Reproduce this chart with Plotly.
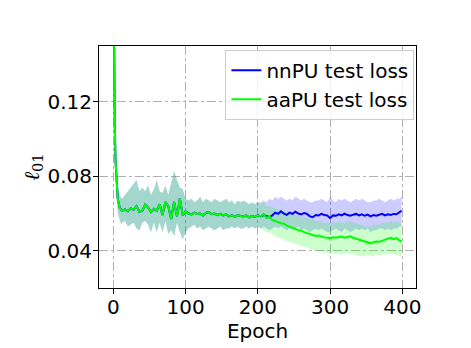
import plotly.graph_objects as go

epochs = list(range(0, 12)) + list(range(12, 400, 4)) + [399]

# shared part (epochs 0..200): both methods coincide
shared_mean = [0.200, 0.140, 0.105, 0.088, 0.078, 0.072, 0.068, 0.066, 0.064, 0.063, 0.0625, 0.062,
               0.0615, 0.0622, 0.0612, 0.0628, 0.0620, 0.0640, 0.0608, 0.0615, 0.0648, 0.0632,
               0.0608, 0.0625, 0.0615, 0.0650, 0.0592, 0.0662, 0.0640, 0.0570, 0.0662, 0.0585,
               0.0680, 0.0590, 0.0612, 0.0600, 0.0595, 0.0605, 0.0598, 0.0600, 0.0590, 0.0603,
               0.0608, 0.0596, 0.0600, 0.0592, 0.0598, 0.0590, 0.0595, 0.0585, 0.0590, 0.0583,
               0.0592, 0.0587, 0.0584, 0.0590, 0.0580, 0.0586, 0.0582, 0.0590]
shared_lo = [0.19, 0.13, 0.098, 0.082, 0.072, 0.066, 0.061, 0.059, 0.057, 0.056, 0.055, 0.054,
             0.055, 0.056, 0.053, 0.054, 0.055, 0.052, 0.051, 0.055, 0.056, 0.054,
             0.050, 0.055, 0.050, 0.055, 0.050, 0.056, 0.049, 0.051, 0.048, 0.055,
             0.050, 0.046, 0.050, 0.052, 0.053, 0.054, 0.052, 0.053, 0.051, 0.052,
             0.053, 0.052, 0.051, 0.052, 0.053, 0.051, 0.052, 0.052, 0.053, 0.052,
             0.053, 0.052, 0.052, 0.053, 0.052, 0.053, 0.052, 0.053]
shared_hi = [0.21, 0.15, 0.112, 0.094, 0.084, 0.078, 0.075, 0.072, 0.070, 0.069, 0.069, 0.068,
             0.068, 0.070, 0.072, 0.074, 0.076, 0.078, 0.072, 0.074, 0.072, 0.075,
             0.070, 0.073, 0.078, 0.072, 0.071, 0.075, 0.070, 0.076, 0.083, 0.078,
             0.074, 0.073, 0.068, 0.067, 0.068, 0.066, 0.067, 0.069, 0.066, 0.068,
             0.067, 0.066, 0.068, 0.067, 0.066, 0.067, 0.068, 0.066, 0.067, 0.065,
             0.067, 0.066, 0.067, 0.066, 0.065, 0.066, 0.065, 0.066]

nnpu_mean_tail = [0.0585, 0.0592, 0.0588, 0.0580, 0.0590, 0.0605, 0.0598, 0.0612, 0.0600, 0.0593,
                  0.0605, 0.0598, 0.0610, 0.0600, 0.0595, 0.0603, 0.0598, 0.0585, 0.0580, 0.0592,
                  0.0590, 0.0598, 0.0592, 0.0590, 0.0575, 0.0590, 0.0588, 0.0596, 0.0590, 0.0600,
                  0.0592, 0.0588, 0.0594, 0.0598, 0.0590, 0.0596, 0.0588, 0.0594, 0.0585, 0.0592,
                  0.0588, 0.0594, 0.0598, 0.0590, 0.0596, 0.0592, 0.0598, 0.0596, 0.0605, 0.0615]
nnpu_lo_tail = [0.052, 0.053, 0.052, 0.051, 0.052, 0.053, 0.052, 0.053, 0.052, 0.051,
                0.052, 0.051, 0.052, 0.053, 0.051, 0.052, 0.051, 0.050, 0.051, 0.052,
                0.051, 0.052, 0.051, 0.050, 0.050, 0.051, 0.052, 0.051, 0.050, 0.052,
                0.051, 0.050, 0.051, 0.052, 0.051, 0.052, 0.051, 0.052, 0.050, 0.051,
                0.051, 0.052, 0.052, 0.051, 0.052, 0.051, 0.052, 0.052, 0.053, 0.053]
nnpu_hi_tail = [0.066, 0.067, 0.066, 0.068, 0.067, 0.069, 0.068, 0.069, 0.068, 0.067,
                0.068, 0.067, 0.069, 0.068, 0.067, 0.068, 0.067, 0.066, 0.066, 0.067,
                0.067, 0.068, 0.067, 0.066, 0.069, 0.067, 0.066, 0.068, 0.067, 0.068,
                0.067, 0.066, 0.067, 0.068, 0.067, 0.068, 0.067, 0.066, 0.066, 0.067,
                0.067, 0.068, 0.067, 0.066, 0.067, 0.068, 0.067, 0.068, 0.068, 0.069]

aapu_mean_tail = [0.0585, 0.0598, 0.0575, 0.0585, 0.0565, 0.0560, 0.0552, 0.0548, 0.0545, 0.0535,
                  0.0530, 0.0525, 0.0518, 0.0510, 0.0508, 0.0500, 0.0495, 0.0492, 0.0485, 0.0480,
                  0.0482, 0.0476, 0.0472, 0.0470, 0.0468, 0.0472, 0.0470, 0.0474, 0.0476, 0.0470,
                  0.0475, 0.0478, 0.0470, 0.0465, 0.0460, 0.0452, 0.0448, 0.0445, 0.0440, 0.0446,
                  0.0450, 0.0448, 0.0455, 0.0460, 0.0465, 0.0470, 0.0462, 0.0468, 0.0455, 0.0448]
aapu_lo_tail = [0.052, 0.051, 0.050, 0.050, 0.049, 0.048, 0.047, 0.047, 0.046, 0.045,
                0.045, 0.044, 0.044, 0.043, 0.043, 0.042, 0.042, 0.041, 0.041, 0.040,
                0.040, 0.040, 0.039, 0.039, 0.038, 0.039, 0.038, 0.039, 0.038, 0.038,
                0.039, 0.038, 0.038, 0.038, 0.037, 0.037, 0.037, 0.038, 0.037, 0.037,
                0.038, 0.037, 0.038, 0.038, 0.038, 0.039, 0.038, 0.038, 0.037, 0.037]
aapu_hi_tail = [0.065, 0.066, 0.064, 0.064, 0.063, 0.063, 0.062, 0.062, 0.061, 0.061,
                0.060, 0.060, 0.059, 0.059, 0.058, 0.058, 0.058, 0.057, 0.057, 0.056,
                0.056, 0.056, 0.055, 0.055, 0.055, 0.055, 0.055, 0.056, 0.055, 0.055,
                0.056, 0.056, 0.055, 0.055, 0.054, 0.054, 0.053, 0.053, 0.053, 0.054,
                0.054, 0.054, 0.055, 0.055, 0.055, 0.056, 0.055, 0.056, 0.055, 0.054]

nnpu_mean = shared_mean + nnpu_mean_tail
nnpu_lo = shared_lo + nnpu_lo_tail
nnpu_hi = shared_hi + nnpu_hi_tail
aapu_mean = shared_mean + aapu_mean_tail
aapu_lo = shared_lo + aapu_lo_tail
aapu_hi = shared_hi + aapu_hi_tail

x_ticks = [0, 100, 200, 300, 400]
y_ticks = [0.04, 0.08, 0.12]
y_tick_text = ["0.04", "0.08", "0.12"]

FONT = "DejaVu Sans"
FS = 20

fig = go.Figure()

def band(lo, hi, color):
    return go.Scatter(x=epochs + epochs[::-1], y=hi + lo[::-1], fill="toself",
                      fillcolor=color, line=dict(width=0), mode="lines",
                      hoverinfo="skip", showlegend=False)

fig.add_trace(band(nnpu_lo, nnpu_hi, "rgba(0,0,255,0.2)"))
fig.add_trace(band(aapu_lo, aapu_hi, "rgba(0,255,0,0.2)"))
fig.add_trace(go.Scatter(x=epochs, y=nnpu_mean, mode="lines", name="nnPU test loss",
                         line=dict(color="#0000ff", width=2)))
fig.add_trace(go.Scatter(x=epochs, y=aapu_mean, mode="lines", name="aaPU test loss",
                         line=dict(color="#00ff00", width=2)))

axis_common = dict(showline=True, linecolor="black", linewidth=1, mirror=True,
                   ticks="outside", ticklen=5, tickwidth=1, tickcolor="black",
                   showgrid=True, gridcolor="#b0b0b0", griddash="dashdot", gridwidth=1,
                   zeroline=False, tickfont=dict(family=FONT, size=FS, color="black"))

fig.update_xaxes(range=[-19.95, 418.95], tickvals=x_ticks, ticklabelstandoff=-4,
                 title=dict(text="Epoch", font=dict(family=FONT, size=FS, color="black"), standoff=0),
                 **axis_common)
fig.update_yaxes(range=[0.02, 0.15], tickvals=y_ticks, ticktext=y_tick_text, ticklabelstandoff=-3,
                 title=dict(text="<i>ℓ</i><sub>01</sub>", font=dict(family="DejaVu Serif", size=21, color="black"), standoff=2),
                 **axis_common)

fig.update_layout(
    width=471, height=348,
    margin=dict(l=99, r=55, t=46, b=60),
    paper_bgcolor="white", plot_bgcolor="white",
    showlegend=True,
    legend=dict(x=0.995, y=0.985, xanchor="right", yanchor="top",
                bgcolor="rgba(255,255,255,0.8)", bordercolor="#cccccc", borderwidth=1,
                font=dict(family=FONT, size=FS, color="black"),
                itemwidth=30, tracegroupgap=0),
)

fig.write_html("out.html")
